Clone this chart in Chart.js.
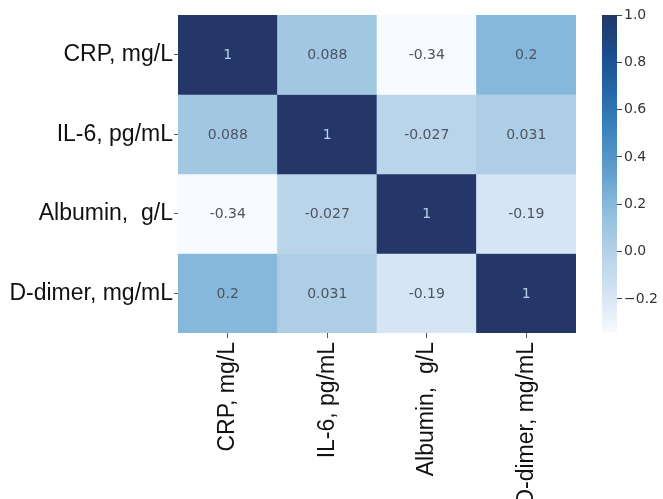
<!DOCTYPE html>
<html>
<head>
<meta charset="utf-8">
<script src="https://cdn.jsdelivr.net/npm/chart.js@4.4.1/dist/chart.umd.min.js"></script>
<style>
  html, body { margin: 0; padding: 0; background: #ffffff; }
  #wrap { position: relative; width: 663px; height: 499px; overflow: hidden; }
  #wrap canvas { position: absolute; left: 0; top: 0; }
</style>
</head>
<body>
<div id="wrap">
  <canvas id="heat" width="663" height="499"></canvas>
  <canvas id="cbar" width="663" height="499"></canvas>
</div>
<script>
// Variables (rows and columns of the correlation matrix)
const variables = ['CRP, mg/L', 'IL-6, pg/mL', 'Albumin,  g/L', 'D-dimer, mg/mL'];

// Pearson correlation rows
const rowCRP     = [1, 0.088, -0.34, 0.2];
const rowIL6     = [0.088, 1, -0.027, 0.031];
const rowAlbumin = [-0.34, -0.027, 1, -0.19];
const rowDdimer  = [0.2, 0.031, -0.19, 1];
const matrix = [rowCRP, rowIL6, rowAlbumin, rowDdimer];

// Colour scale limits and colour-bar ticks
const vMin = -0.34;
const vMax = 1.0;
const colorbarTicks = [-0.2, 0.0, 0.2, 0.4, 0.6, 0.8, 1.0];

// Sequential blue colour map (position 0..1 -> colour)
const blueStops = [
  [0.00, [247, 250, 254]],
  [0.12, [212, 228, 243]],
  [0.25, [182, 210, 232]],
  [0.38, [142, 190, 222]],
  [0.50, [100, 160, 205]],
  [0.63, [62, 134, 190]],
  [0.76, [36, 103, 168]],
  [0.88, [26, 76, 140]],
  [1.00, [36, 55, 104]]
];

function blueAt(t) {
  t = Math.max(0, Math.min(1, t));
  for (let i = 1; i < blueStops.length; i++) {
    const [p1, c1] = blueStops[i];
    const [p0, c0] = blueStops[i - 1];
    if (t <= p1) {
      const f = (t - p0) / (p1 - p0);
      const c = c0.map((v, k) => Math.round(v + (c1[k] - v) * f));
      return `rgb(${c[0]},${c[1]},${c[2]})`;
    }
  }
  const c = blueStops[blueStops.length - 1][1];
  return `rgb(${c[0]},${c[1]},${c[2]})`;
}
const norm = v => (v - vMin) / (vMax - vMin);
const fmt2g = v => String(parseFloat(v.toPrecision(2)));

// One floating-bar dataset per matrix row; each bar spans one row band
const datasets = matrix.map((row, r) => ({
  label: variables[r],
  data: row.map(() => [r, r + 1]),
  corr: row,
  backgroundColor: row.map(v => blueAt(norm(v))),
  borderWidth: 0,
  barPercentage: 1.0,
  categoryPercentage: 1.0,
  grouped: false
}));

// Writes the correlation value in the middle of each cell
const cellLabels = {
  id: 'cellLabels',
  afterDatasetsDraw(chart) {
    const ctx = chart.ctx;
    ctx.save();
    ctx.font = '14px "DejaVu Sans"';
    ctx.textAlign = 'center';
    ctx.textBaseline = 'middle';
    chart.data.datasets.forEach((ds, di) => {
      const meta = chart.getDatasetMeta(di);
      meta.data.forEach((bar, i) => {
        const v = ds.corr[i];
        const cy = (bar.y + bar.base) / 2;
        ctx.fillStyle = norm(v) > 0.6 ? '#b9d1ea' : '#4d5561';
        ctx.fillText(fmt2g(v), bar.x, cy + 1);
      });
    });
    ctx.restore();
  }
};

new Chart(document.getElementById('heat'), {
  type: 'bar',
  data: { labels: variables, datasets },
  plugins: [cellLabels],
  options: {
    responsive: false,
    animation: false,
    layout: { padding: { top: 15, right: 87, left: 0, bottom: 0 } },
    plugins: { legend: { display: false }, tooltip: { enabled: false } },
    scales: {
      x: {
        type: 'category',
        offset: true,
        grid: { offset: false, drawOnChartArea: false, drawTicks: true, tickLength: 5, color: '#555' },
        border: { display: false },
        ticks: {
          autoSkip: false, minRotation: 90, maxRotation: 90, padding: 4,
          color: '#111', font: { family: '"Liberation Sans", Arial', size: 23 }
        },
        afterFit(scale) { scale.height = 166; }
      },
      y: {
        type: 'linear', min: 0, max: 4, reverse: true,
        afterBuildTicks(scale) { scale.ticks = [0.5, 1.5, 2.5, 3.5].map(v => ({ value: v })); },
        grid: { drawOnChartArea: false, drawTicks: true, tickLength: 4, color: '#555' },
        border: { display: false },
        ticks: {
          padding: 1, color: '#111', font: { family: '"Liberation Sans", Arial', size: 23 },
          callback: v => variables[Math.floor(v)]
        },
        afterFit(scale) { scale.width = 178; }
      }
    }
  }
});

// Colour bar: a single floating bar from vMin to vMax filled with the colour map
function colorbarFill(context) {
  const chart = context.chart;
  const area = chart.chartArea;
  if (!area) return blueAt(0.5);
  const g = chart.ctx.createLinearGradient(0, area.bottom, 0, area.top);
  for (let i = 0; i <= 40; i++) g.addColorStop(i / 40, blueAt(i / 40));
  return g;
}

new Chart(document.getElementById('cbar'), {
  type: 'bar',
  data: {
    labels: [''],
    datasets: [{
      data: [[vMin, vMax]],
      backgroundColor: colorbarFill,
      borderWidth: 0,
      barPercentage: 1.0,
      categoryPercentage: 1.0
    }]
  },
  options: {
    responsive: false,
    animation: false,
    layout: { padding: { top: 15, left: 602, right: 0, bottom: 167 } },
    plugins: { legend: { display: false }, tooltip: { enabled: false } },
    scales: {
      x: { display: false },
      y: {
        position: 'right',
        min: vMin, max: vMax,
        afterBuildTicks(scale) { scale.ticks = colorbarTicks.map(v => ({ value: v })); },
        grid: { drawOnChartArea: false, drawTicks: true, tickLength: 5, color: '#444' },
        border: { display: false },
        ticks: {
          padding: 2, color: '#333', font: { family: '"DejaVu Sans"', size: 14 },
          callback: v => (v < -1e-9 ? '\u2212' + Math.abs(v).toFixed(1) : Math.abs(v).toFixed(1))
        },
        afterFit(scale) { scale.width = 46; }
      }
    }
  }
});
</script>
</body>
</html>
